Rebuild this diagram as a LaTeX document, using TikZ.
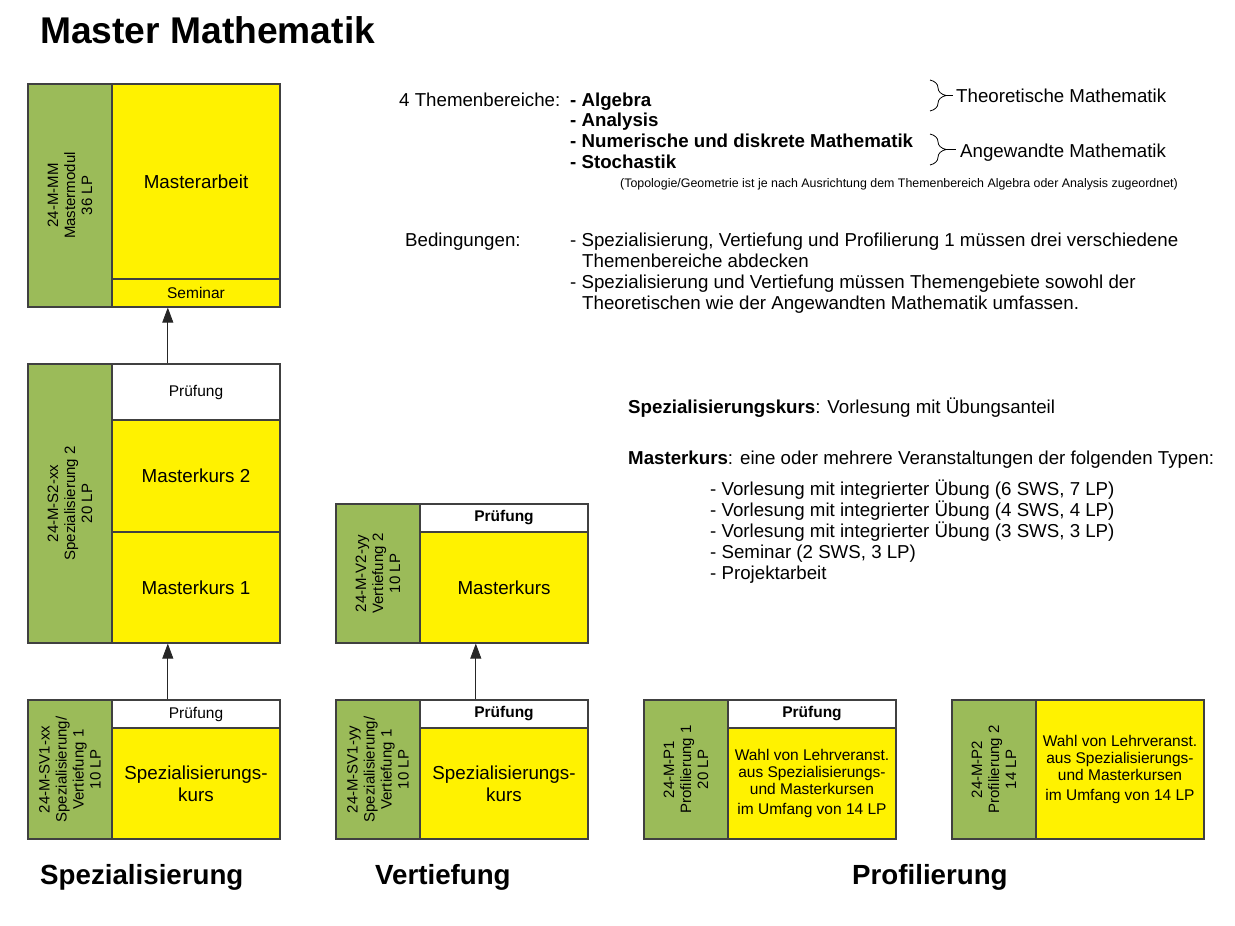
\documentclass[tikz,border=0pt]{standalone}
\usepackage{fontspec}
\setmainfont{Liberation Sans}
\usetikzlibrary{arrows.meta,calc,decorations.pathreplacing}
\definecolor{modgruen}{HTML}{9BBB59}
\definecolor{rahmen}{HTML}{404040}

\begin{document}
\begin{tikzpicture}[x=1pt,y=-1pt,>={Triangle[width=11pt,length=15pt]},
  kasten/.style={draw=rahmen,line width=1.2pt,inner sep=2pt,align=center,minimum width=168pt},
  gelb/.style={kasten,fill=yellow,font=\fontsize{18.8}{22}\selectfont},
  pruef/.style={kasten,fill=white,font=\fontsize{15.5}{18}\selectfont},
  wahl/.style={kasten,fill=yellow,font=\fontsize{15.5}{17}\selectfont},
  modul/.style={kasten,fill=modgruen,rotate=90,minimum height=84pt,font=\fontsize{15}{17}\selectfont},
  pfeil/.style={->,line width=0.8pt,black!85},
  txt/.style={anchor=base west,inner sep=0pt,font=\fontsize{18.7}{21}\selectfont},
  sektion/.style={anchor=base west,inner sep=0pt,font=\fontsize{27.7}{33}\selectfont\bfseries}]
  \useasboundingbox (0,0) rectangle (1235,926);
  \node[anchor=base west,inner sep=0pt,font=\fontsize{37.2}{40}\selectfont\bfseries] (titel) at (40,43) {Master Mathematik};

  % Mastermodul
  \node[modul,minimum width=223pt] (mmg) at (70,195.5) {24-M-MM\\Mastermodul\\36 LP};
  \node[gelb,minimum height=195pt] (arbeit) at (196,181.5) {Masterarbeit};
  \node[wahl,minimum height=28pt] (seminar) at (196,293) {Seminar};

  % Spezialisierung 2
  \node[modul,minimum width=279pt] (s2g) at (70,503.5) {24-M-S2-xx\\Spezialisierung 2\\20 LP};
  \node[pruef,minimum height=56pt] (s2pr) at (196,392) {Prüfung};
  \node[gelb,minimum height=112pt] (mk2) at (196,476) {Masterkurs 2};
  \node[gelb,minimum height=111pt] (mk1) at (196,587.5) {Masterkurs 1};

  % Spezialisierung/Vertiefung 1 (xx)
  \node[modul,minimum width=139pt] (sv1xg) at (70,769.5) {24-M-SV1-xx\\Spezialisierung/\\Vertiefung 1\\10 LP};
  \node[pruef,minimum height=28pt] (sv1xpr) at (196,714) {Prüfung};
  \node[gelb,minimum height=111pt] (sv1xk) at (196,783.5) {Spezialisierungs-\\kurs};

  % Vertiefung 2
  \node[modul,minimum width=139pt] (v2g) at (378,573.5) {24-M-V2-yy\\Vertiefung 2\\10 LP};
  \node[pruef,minimum height=28pt,font=\fontsize{15.5}{18}\selectfont\bfseries] (v2pr) at (504,518) {Prüfung};
  \node[gelb,minimum height=111pt] (v2k) at (504,587.5) {Masterkurs};

  % Spezialisierung/Vertiefung 1 (yy)
  \node[modul,minimum width=139pt] (sv1yg) at (378,769.5) {24-M-SV1-yy\\Spezialisierung/\\Vertiefung 1\\10 LP};
  \node[pruef,minimum height=28pt,font=\fontsize{15.5}{18}\selectfont\bfseries] (sv1ypr) at (504,714) {Prüfung};
  \node[gelb,minimum height=111pt] (sv1yk) at (504,783.5) {Spezialisierungs-\\kurs};

  % Profilierung 1 und 2
  \node[modul,minimum width=139pt] (p1g) at (686,769.5) {24-M-P1\\Profilierung 1\\20 LP};
  \node[pruef,minimum height=28pt,font=\fontsize{15.5}{18}\selectfont\bfseries] (p1pr) at (812,714) {Prüfung};
  \node[wahl,minimum height=111pt] (p1k) at (812,783.5) {Wahl von Lehrveranst.\\aus Spezialisierungs-\\und Masterkursen\\[3pt]im Umfang von 14 LP};
  \node[modul,minimum width=139pt] (p2g) at (994,769.5) {24-M-P2\\Profilierung 2\\14 LP};
  \node[wahl,minimum height=139pt] (p2k) at (1120,769.5) {Wahl von Lehrveranst.\\aus Spezialisierungs-\\und Masterkursen\\[3pt]im Umfang von 14 LP};

  % Pfeile
  \draw[pfeil] ($(s2pr.north west)!1/3!(s2pr.north east)$) -- ($(seminar.south west)!1/3!(seminar.south east)$);
  \draw[pfeil] ($(sv1xpr.north west)!1/3!(sv1xpr.north east)$) -- ($(mk1.south west)!1/3!(mk1.south east)$);
  \draw[pfeil] ($(sv1ypr.north west)!1/3!(sv1ypr.north east)$) -- ($(v2k.south west)!1/3!(v2k.south east)$);

  % Themenbereiche
  \node[txt] (tb) at (399,106) {4 Themenbereiche:};
  \foreach \t [count=\i] in {Algebra,Analysis,Numerische und diskrete Mathematik,Stochastik}
    \node[txt,font=\fontsize{18.7}{21}\selectfont\bfseries] (tb\i) at (570,85.3+20.7*\i) {- \t};
  \draw[line width=0.8pt,decorate,decoration={brace,amplitude=16pt}] (930,80) -- (930,111);
  \draw[line width=0.8pt,decorate,decoration={brace,amplitude=16pt}] (930,134) -- (930,165);
  \coordinate (b1) at (946,95.5);
  \coordinate (b1e) at (953,95.5);
  \coordinate (b2) at (946,149.5);
  \coordinate (b2e) at (956,149.5);
  \draw[line width=0.8pt] (b1) -- (b1e);
  \draw[line width=0.8pt] (b2) -- (b2e);
  \node[txt] (theo) at (956,102) {Theoretische Mathematik};
  \node[txt] (angew) at (960,157) {Angewandte Mathematik};
  \node[txt,font=\fontsize{12.4}{14}\selectfont] (topo) at (620,187) {(Topologie/Geometrie ist je nach Ausrichtung dem Themenbereich Algebra oder Analysis zugeordnet)};

  % Bedingungen
  \node[txt] (bed) at (405,246) {Bedingungen:};
  \node[txt] (bed1) at (570,246) {- Spezialisierung, Vertiefung und Profilierung 1 müssen drei verschiedene};
  \node[txt] (bed1b) at (582,267) {Themenbereiche abdecken};
  \node[txt] (bed2) at (570,288) {- Spezialisierung und Vertiefung müssen Themengebiete sowohl der};
  \node[txt] (bed2b) at (582,309) {Theoretischen wie der Angewandten Mathematik umfassen.};

  % Kursarten
  \node[txt] (spk) at (628,413) {\textbf{Spezialisierungskurs}: Vorlesung mit Übungsanteil};
  \node[txt] (mk) at (628,464) {\textbf{Masterkurs}: eine oder mehrere Veranstaltungen der folgenden Typen:};
  \foreach \t [count=\i] in {{Vorlesung mit integrierter Übung (6 SWS, 7 LP)},{Vorlesung mit integrierter Übung (4 SWS, 4 LP)},{Vorlesung mit integrierter Übung (3 SWS, 3 LP)},{Seminar (2 SWS, 3 LP)},{Projektarbeit}}
    \node[txt] (typ\i) at (710,474+21*\i) {- \t};

  % Saeulen
  \node[sektion] (spez) at (40,884) {Spezialisierung};
  \node[sektion] (vert) at (375,884) {Vertiefung};
  \node[sektion] (prof) at (852,884) {Profilierung};
\end{tikzpicture}
\end{document}
